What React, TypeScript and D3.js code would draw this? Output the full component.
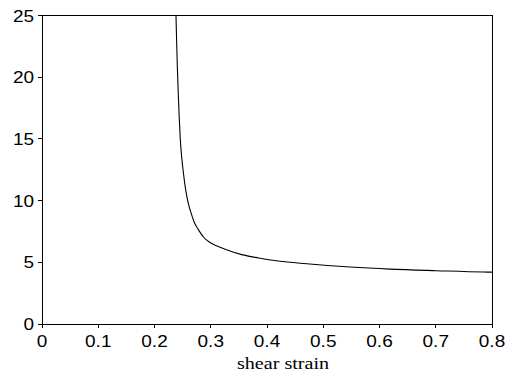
import React from "react";
import * as d3 from "d3";

const strain = [0.2382, 0.2393, 0.2405, 0.242, 0.2437, 0.2458, 0.2484, 0.2515, 0.2555, 0.26, 0.265, 0.271, 0.278, 0.287, 0.298, 0.31, 0.328, 0.355, 0.385, 0.42, 0.4705, 0.5476, 0.6187, 0.7016, 0.7846, 0.8];
const values = [25, 23, 21, 19, 17, 15, 13.5, 12.2, 10.85, 9.8, 9.0, 8.2, 7.65, 7.05, 6.62, 6.35, 6.02, 5.62, 5.35, 5.1, 4.88, 4.62, 4.45, 4.32, 4.21, 4.2];
const xTicks = [0, 0.1, 0.2, 0.3, 0.4, 0.5, 0.6, 0.7, 0.8];
const xTickLabels = ["0", "0.1", "0.2", "0.3", "0.4", "0.5", "0.6", "0.7", "0.8"];
const yTicks = [0, 5, 10, 15, 20, 25];
const xTitle = "shear strain";

const W = 505, H = 373;
const L = 42, R = 492, T = 15.5, B = 324;
const SX = 1.15;
const tickFont = "'Liberation Sans', Arial, sans-serif";
const titleFont = "'Liberation Serif', 'Times New Roman', serif";

export default function App() {
  const x = d3.scaleLinear().domain([0, 0.8]).range([L, R]);
  const y = d3.scaleLinear().domain([0, 25]).range([B, T]);
  const pts = strain.map((s, i) => [s, values[i]] as [number, number]);
  const line = d3.line<[number, number]>().x(d => x(d[0])).y(d => y(d[1])).curve(d3.curveMonotoneX);
  return (
    <svg width={W} height={H} style={{ position: "absolute", left: 0, top: 0, background: "#fff" }}>
      <rect x={0} y={0} width={W} height={H} fill="#fff" />
      <rect x={L} y={T} width={R - L} height={B - T} fill="none" stroke="#000" strokeWidth={1} shapeRendering="crispEdges" />
      {yTicks.map(t => (
        <g key={"y" + t}>
          <line x1={L - 4} x2={L} y1={y(t)} y2={y(t)} stroke="#000" shapeRendering="crispEdges" />
          <text transform={`translate(${L - 8},${y(t) + 6}) scale(${SX},1)`} textAnchor="end" fontFamily={tickFont} fontSize={16.5} fill="#000">{t}</text>
        </g>
      ))}
      {xTicks.map((t, i) => (
        <g key={"x" + t}>
          <line x1={x(t)} x2={x(t)} y1={B} y2={B + 4} stroke="#000" shapeRendering="crispEdges" />
          <text transform={`translate(${x(t)},${346.5}) scale(${SX},1)`} textAnchor="middle" fontFamily={tickFont} fontSize={16.5} fill="#000">{xTickLabels[i]}</text>
        </g>
      ))}
      <path d={line(pts) || ""} fill="none" stroke="#000" strokeWidth={1.1} />
      <text transform={`translate(283,369) scale(${SX},1)`} textAnchor="middle" fontFamily={titleFont} fontSize={17.5} fill="#000">{xTitle}</text>
    </svg>
  );
}
